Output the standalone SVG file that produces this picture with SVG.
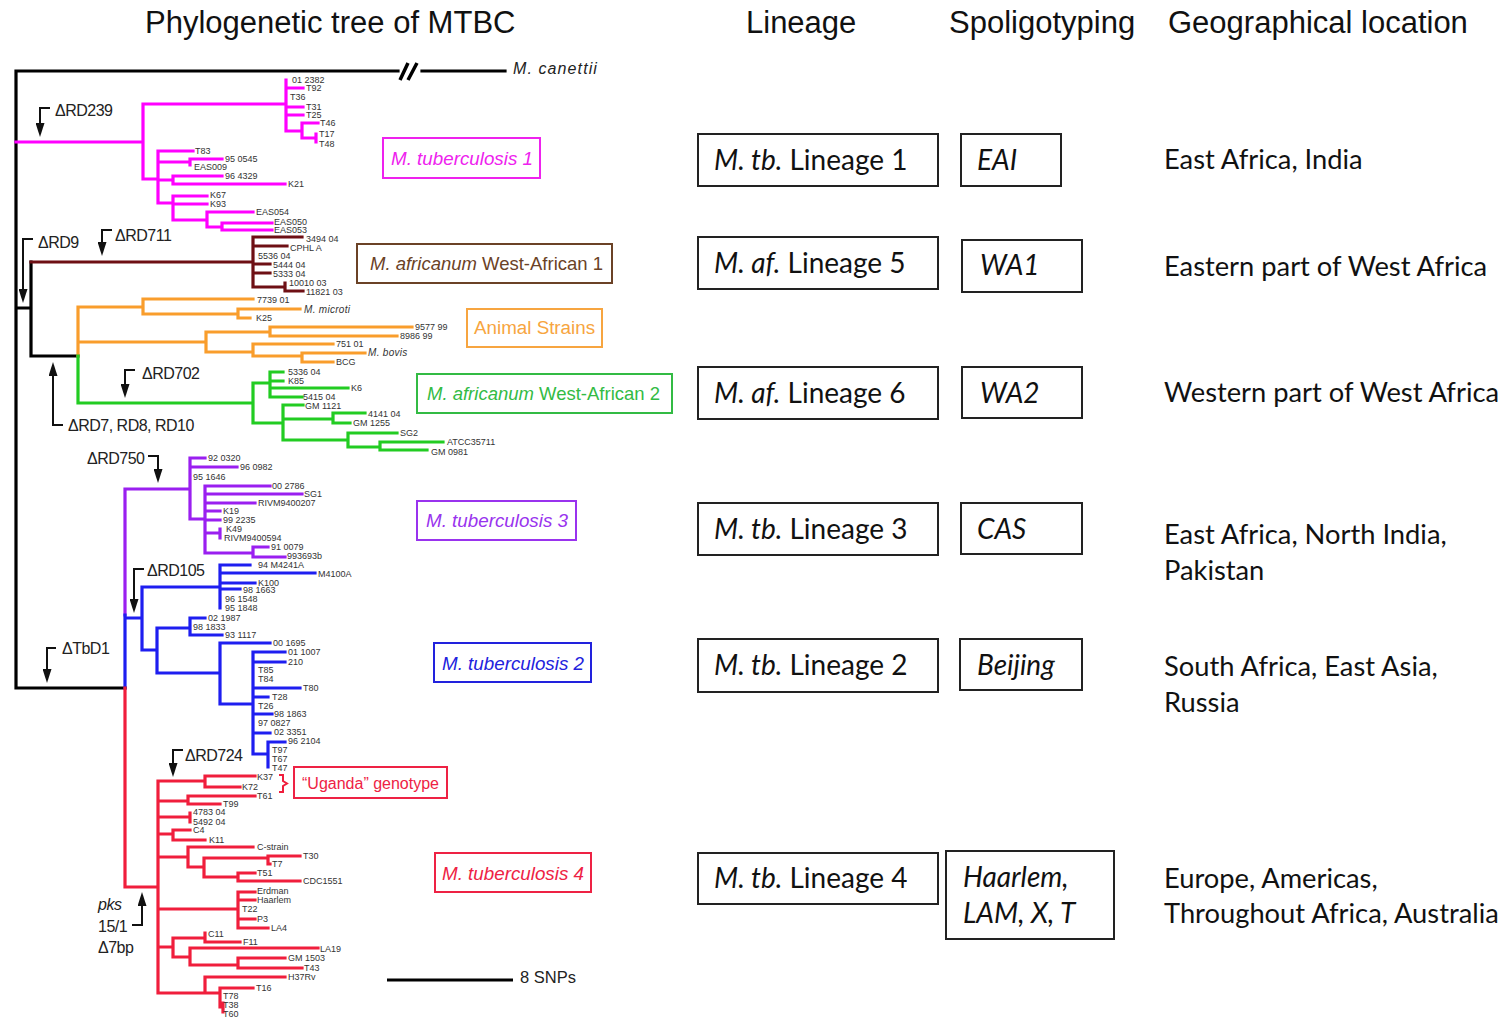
<svg xmlns="http://www.w3.org/2000/svg" width="1506" height="1019" viewBox="0 0 1506 1019">
<defs>
<style>
.hdr{font-family:"Liberation Sans",Arial,sans-serif;font-size:31px;fill:#111}
.br{fill:none;stroke-width:3.2;stroke-linecap:square;stroke-linejoin:miter}
.blk{stroke:#000}
.mag{stroke:#ff00ff}
.brn{stroke:#6e0f14}
.org{stroke:#f99d2c}
.grn{stroke:#22cc22}
.pur{stroke:#9a1ff0}
.blu{stroke:#1e1ef0}
.red{stroke:#f01e3c}
.tip{font-family:"Liberation Sans",Arial,sans-serif;font-size:9px;fill:#333}
.tipi{font-family:"Liberation Sans",Arial,sans-serif;font-size:10px;font-style:italic;fill:#333;letter-spacing:0.3px}
.evt{font-family:"Liberation Sans",Arial,sans-serif;font-size:16px;fill:#222;letter-spacing:-0.5px}
.arr{fill:none;stroke:#111;stroke-width:2;marker-end:url(#ah)}
.cbox{fill:#fff;stroke-width:2}
.clab{font-family:"Liberation Sans",Arial,sans-serif;font-size:18.8px}
.tbox{fill:#fff;stroke:#222;stroke-width:2}
.tt{font-family:Lato,"Open Sans",sans-serif;font-size:28px;fill:#111}
.geo{font-family:Lato,"Open Sans",sans-serif;font-size:27.3px;fill:#111}
</style>
<marker id="ah" viewBox="0 0 14 9" refX="2" refY="4.5" markerWidth="14" markerHeight="9" markerUnits="userSpaceOnUse" orient="auto">
<path d="M0,0 L14,4.5 L0,9 z" fill="#111"/>
</marker>
</defs>
<rect width="1506" height="1019" fill="#fff"/>

<!-- column headings -->
<g id="headings">
<text class="hdr" x="145" y="33">Phylogenetic tree of MTBC</text>
<text class="hdr" x="746" y="33">Lineage</text>
<text class="hdr" x="949" y="33">Spoligotyping</text>
<text class="hdr" x="1168" y="33">Geographical location</text>
</g>

<!-- tree branches -->
<g id="connectors">
<path class="br blk" d="M16,71 H398 M422,71 H505 M16,71 V688 H125 M16,308 H31 M31,262 V356 H78"/>
<path d="M400,80 L408,63 M408,80 L417,63" stroke="#000" stroke-width="3.5" fill="none"/>
<path class="br mag" d="M16,142 H143 M143,104 V179 M143,104 H286 M286,80 V131 M286,88 H303 M286,107 H303 M286,115 H303 M286,131 H302 M302,123 V138 M302,123 H318 M302,138 H316 M316,134 V142 M143,179 H158 M158,151 V203 M158,151 H193 M158,162 H190 M190,159 V165 M190,159 H222 M158,180 H173 M173,176 V184 M173,176 H222 M173,184 H285 M158,203 H173 M173,196 V220 M173,196 H207 M173,204 H207 M173,220 H207 M207,212 V227 M207,212 H253 M207,227 H222 M222,223 V230 M222,223 H272 M222,230 H272"/>
<path class="br brn" d="M31,262 H253 M253,237 V287 M253,237 H302 M253,246 H287 M253,264 H270 M253,273 H270 M253,287 H285 M285,283 V291 M285,291 H303"/>
<path class="br org" d="M78,307 V356 M78,307 H143 M143,299 V314 M143,299 H253 M143,314 H238 M238,309 V318 M238,309 H300 M238,318 H250 M78,342 H206 M206,332 V352 M206,332 H270 M270,327 V336 M270,327 H412 M270,336 H397 M206,352 H253 M253,344 V356 M253,344 H333 M253,356 H302 M302,353 V362 M302,353 H365 M302,362 H333"/>
<path class="br grn" d="M78,356 V403 H253 M253,383 V423 M253,383 H270 M270,372 V397 M270,372 H283 M270,381 H283 M270,388 H348 M270,397 H302 M253,423 H283 M283,405 V440 M283,405 H303 M283,419 H333 M333,413 V423 M333,413 H365 M333,423 H350 M283,440 H348 M348,433 V447 M348,433 H397 M348,447 H380 M380,442 V450 M380,442 H443 M380,450 H427"/>
<path class="br pur" d="M125,489 V615 M125,489 H190 M190,458 V519 M190,458 H205 M190,467 H237 M190,519 H205 M205,486 V553 M205,486 H270 M205,494 H302 M205,503 H255 M205,511 H220 M205,520 H220 M205,533 H220 M220,529 V538 M205,553 H253 M253,547 V557 M253,547 H268 M253,557 H285"/>
<path class="br blu" d="M125,615 V688 M125,618 H142 M142,587 V650 M142,587 H220 M220,565 V608 M220,565 H250 M220,573 H315 M220,583 H255 M220,589 H240 M142,650 H157 M157,628 V673 M157,628 H190 M190,618 V635 M190,618 H205 M190,635 H222 M157,673 H220 M220,643 V704 M220,643 H270 M220,704 H253 M253,652 V754 M253,652 H285 M253,662 H285 M253,688 H300 M253,697 H268 M253,714 H272 M253,733 H270 M253,754 H268 M268,742 V767 M268,742 H285"/>
<path class="br red" d="M125,688 V887 H158 M158,781 V993 M158,781 H205 M205,776 V787 M205,776 H255 M205,787 H240 M158,801 H188 M188,796 V804 M188,796 H255 M188,804 H220 M158,817 H190 M190,813 V822 M158,834 H173 M173,830 V840 M173,830 H190 M173,840 H205 M158,857 H188 M188,847 V867 M188,847 H253 M188,867 H204 M204,858 V877 M204,858 H268 M268,856 V864 M268,856 H300 M268,864 H270 M204,877 H238 M238,873 V881 M238,873 H255 M238,881 H300 M158,909 H238 M238,892 V928 M238,892 H255 M238,900 H255 M238,919 H255 M238,928 H268 M158,947 H173 M173,938 V957 M173,938 H205 M205,933 V942 M205,942 H240 M173,957 H190 M190,948 V965 M190,948 H318 M190,965 H238 M238,958 V968 M238,958 H285 M238,968 H302 M158,993 H205 M205,977 V993 M205,977 H285 M205,993 H220 M220,988 V1007 M220,988 H253 M220,1007 H223 M223,1003 V1012"/>
<!-- scale bar -->
<path d="M387,980 H513" stroke="#000" stroke-width="3.2"/>
<!-- Uganda bracket -->
<path d="M279,775 H283 V781 L287,783.5 L283,786 V792 H279" fill="none" stroke="#f01e3c" stroke-width="2"/>
</g>

<!-- deletion events -->
<g id="events">
<path class="arr" d="M50,108 H40 V125"/>
<text class="evt" x="55" y="116">ΔRD239</text>
<path class="arr" d="M33,239 H23 V291"/>
<text class="evt" x="38" y="248">ΔRD9</text>
<path class="arr" d="M112,230 H102 V244"/>
<text class="evt" x="115" y="241">ΔRD711</text>
<path class="arr" d="M135,370 H125 V386"/>
<text class="evt" x="142" y="379">ΔRD702</text>
<path class="arr" d="M63,425 H53 V374"/>
<text class="evt" x="68" y="431">ΔRD7, RD8, RD10</text>
<path class="arr" d="M148,456 H158 V471"/>
<text class="evt" x="87" y="464">ΔRD750</text>
<path class="arr" d="M144,569 H134 V601"/>
<text class="evt" x="147" y="576">ΔRD105</text>
<path class="arr" d="M56,648 H47 V671"/>
<text class="evt" x="62" y="654">ΔTbD1</text>
<path class="arr" d="M183,750 H173 V765"/>
<text class="evt" x="185" y="761">ΔRD724</text>
<path class="arr" d="M132,925 H142 V904"/>
<text class="evt" x="98" y="910" font-style="italic">pks</text>
<text class="evt" x="98" y="932">15/1</text>
<text class="evt" x="98" y="953">Δ7bp</text>
</g>

<g id="outgroup">
<text x="513" y="74" font-family="Liberation Sans, Arial, sans-serif" font-size="16" font-style="italic" letter-spacing="1.1" fill="#222">M. canettii</text>
</g>

<g id="tips-lineage1">
<text class="tip" x="292" y="83">01 2382</text>
<text class="tip" x="306" y="91">T92</text>
<text class="tip" x="290" y="100">T36</text>
<text class="tip" x="306" y="110">T31</text>
<text class="tip" x="306" y="118">T25</text>
<text class="tip" x="320" y="126">T46</text>
<text class="tip" x="319" y="137">T17</text>
<text class="tip" x="319" y="147">T48</text>
<text class="tip" x="195" y="154">T83</text>
<text class="tip" x="225" y="162">95 0545</text>
<text class="tip" x="194" y="170">EAS009</text>
<text class="tip" x="225" y="179">96 4329</text>
<text class="tip" x="288" y="187">K21</text>
<text class="tip" x="210" y="198">K67</text>
<text class="tip" x="210" y="207">K93</text>
<text class="tip" x="256" y="215">EAS054</text>
<text class="tip" x="274" y="225">EAS050</text>
<text class="tip" x="274" y="233">EAS053</text>
</g>

<g id="tips-lineage5">
<text class="tip" x="306" y="242">3494 04</text>
<text class="tip" x="290" y="251">CPHL A</text>
<text class="tip" x="258" y="259">5536 04</text>
<text class="tip" x="273" y="268">5444 04</text>
<text class="tip" x="273" y="277">5333 04</text>
<text class="tip" x="289" y="286">10010 03</text>
<text class="tip" x="306" y="295">11821 03</text>
</g>

<g id="tips-animal">
<text class="tip" x="257" y="303">7739 01</text>
<text class="tipi" x="304" y="313">M. microti</text>
<text class="tip" x="256" y="321">K25</text>
<text class="tip" x="415" y="330">9577 99</text>
<text class="tip" x="400" y="339">8986 99</text>
<text class="tip" x="336" y="347">751 01</text>
<text class="tipi" x="368" y="356">M. bovis</text>
<text class="tip" x="336" y="365">BCG</text>
</g>

<g id="tips-lineage6">
<text class="tip" x="288" y="375">5336 04</text>
<text class="tip" x="288" y="384">K85</text>
<text class="tip" x="351" y="391">K6</text>
<text class="tip" x="303" y="400">5415 04</text>
<text class="tip" x="305" y="409">GM 1121</text>
<text class="tip" x="368" y="417">4141 04</text>
<text class="tip" x="353" y="426">GM 1255</text>
<text class="tip" x="400" y="436">SG2</text>
<text class="tip" x="447" y="445">ATCC35711</text>
<text class="tip" x="431" y="455">GM 0981</text>
</g>

<g id="tips-lineage3">
<text class="tip" x="208" y="461">92 0320</text>
<text class="tip" x="240" y="470">96 0982</text>
<text class="tip" x="193" y="480">95 1646</text>
<text class="tip" x="272" y="489">00 2786</text>
<text class="tip" x="304" y="497">SG1</text>
<text class="tip" x="258" y="506">RIVM9400207</text>
<text class="tip" x="223" y="514">K19</text>
<text class="tip" x="223" y="523">99 2235</text>
<text class="tip" x="226" y="532">K49</text>
<text class="tip" x="224" y="541">RIVM9400594</text>
<text class="tip" x="271" y="550">91 0079</text>
<text class="tip" x="287" y="559">993693b</text>
</g>

<g id="tips-lineage2">
<text class="tip" x="258" y="568">94 M4241A</text>
<text class="tip" x="318" y="577">M4100A</text>
<text class="tip" x="258" y="586">K100</text>
<text class="tip" x="243" y="593">98 1663</text>
<text class="tip" x="225" y="602">96 1548</text>
<text class="tip" x="225" y="611">95 1848</text>
<text class="tip" x="208" y="621">02 1987</text>
<text class="tip" x="193" y="630">98 1833</text>
<text class="tip" x="225" y="638">93 1117</text>
<text class="tip" x="273" y="646">00 1695</text>
<text class="tip" x="288" y="655">01 1007</text>
<text class="tip" x="288" y="665">210</text>
<text class="tip" x="258" y="673">T85</text>
<text class="tip" x="258" y="682">T84</text>
<text class="tip" x="303" y="691">T80</text>
<text class="tip" x="272" y="700">T28</text>
<text class="tip" x="258" y="709">T26</text>
<text class="tip" x="274" y="717">98 1863</text>
<text class="tip" x="258" y="726">97 0827</text>
<text class="tip" x="274" y="735">02 3351</text>
<text class="tip" x="288" y="744">96 2104</text>
<text class="tip" x="272" y="753">T97</text>
<text class="tip" x="272" y="762">T67</text>
<text class="tip" x="272" y="771">T47</text>
</g>

<g id="tips-lineage4">
<text class="tip" x="257" y="780">K37</text>
<text class="tip" x="242" y="790">K72</text>
<text class="tip" x="257" y="799">T61</text>
<text class="tip" x="223" y="807">T99</text>
<text class="tip" x="193" y="815">4783 04</text>
<text class="tip" x="193" y="825">5492 04</text>
<text class="tip" x="193" y="833">C4</text>
<text class="tip" x="209" y="843">K11</text>
<text class="tip" x="257" y="850">C-strain</text>
<text class="tip" x="303" y="859">T30</text>
<text class="tip" x="272" y="867">T7</text>
<text class="tip" x="257" y="876">T51</text>
<text class="tip" x="303" y="884">CDC1551</text>
<text class="tip" x="257" y="894">Erdman</text>
<text class="tip" x="257" y="903">Haarlem</text>
<text class="tip" x="242" y="912">T22</text>
<text class="tip" x="257" y="922">P3</text>
<text class="tip" x="271" y="931">LA4</text>
<text class="tip" x="208" y="937">C11</text>
<text class="tip" x="243" y="945">F11</text>
<text class="tip" x="320" y="952">LA19</text>
<text class="tip" x="288" y="961">GM 1503</text>
<text class="tip" x="304" y="971">T43</text>
<text class="tip" x="288" y="980">H37Rv</text>
<text class="tip" x="256" y="991">T16</text>
<text class="tip" x="223" y="999">T78</text>
<text class="tip" x="223" y="1008">T38</text>
<text class="tip" x="223" y="1017">T60</text>
</g>

<g id="scale-label">
<text x="520" y="983" font-family="Liberation Sans, Arial, sans-serif" font-size="16.5" fill="#222">8 SNPs</text>
</g>

<!-- clade labels -->
<g id="label-mtb1">
<rect class="cbox" x="383" y="138" width="157" height="40" stroke="#ee22ee"/>
<text class="clab" x="391" y="165" fill="#ee22ee" font-style="italic">M. tuberculosis 1</text>
</g>
<g id="label-maf1">
<rect class="cbox" x="357" y="244" width="255" height="39" stroke="#6b4226"/>
<text class="clab" x="370" y="270" fill="#6b4226" style="font-size:18.5px"><tspan font-style="italic">M. africanum</tspan> West-African 1</text>
</g>
<g id="label-animal">
<rect class="cbox" x="467" y="309" width="135" height="38" stroke="#f7a540"/>
<text class="clab" x="474" y="334" fill="#f7a540">Animal Strains</text>
</g>
<g id="label-maf2">
<rect class="cbox" x="417" y="374" width="255" height="39" stroke="#33bb44"/>
<text class="clab" x="427" y="400" fill="#33bb44" style="font-size:18.5px"><tspan font-style="italic">M. africanum</tspan> West-African 2</text>
</g>
<g id="label-mtb3">
<rect class="cbox" x="417" y="501" width="159" height="39" stroke="#9933ee"/>
<text class="clab" x="426" y="527" fill="#9933ee" font-style="italic">M. tuberculosis 3</text>
</g>
<g id="label-mtb2">
<rect class="cbox" x="434" y="643" width="157" height="39" stroke="#2222dd"/>
<text class="clab" x="442" y="670" fill="#2222dd" font-style="italic">M. tuberculosis 2</text>
</g>
<g id="label-uganda">
<rect class="cbox" x="294" y="767" width="153" height="31" stroke="#ee2244"/>
<text x="302" y="789" font-family="Liberation Sans, Arial, sans-serif" font-size="16" fill="#ee2244">“Uganda” genotype</text>
</g>
<g id="label-mtb4">
<rect class="cbox" x="435" y="853" width="156" height="39" stroke="#ee2244"/>
<text class="clab" x="442" y="880" fill="#ee2244" font-style="italic">M. tuberculosis 4</text>
</g>

<!-- lineage table -->
<g id="row-l1">
<rect class="tbox" x="698" y="134" width="240" height="52"/>
<text class="tt" x="714" y="170"><tspan font-style="italic">M. tb.</tspan> Lineage 1</text>
<rect class="tbox" x="961" y="134" width="100" height="52"/>
<text class="tt" x="977" y="170" font-style="italic">EAI</text>
<text class="geo" x="1164" y="169">East Africa, India</text>
</g>
<g id="row-l5">
<rect class="tbox" x="698" y="237" width="240" height="52"/>
<text class="tt" x="714" y="273"><tspan font-style="italic">M. af.</tspan> Lineage 5</text>
<rect class="tbox" x="962" y="240" width="120" height="52"/>
<text class="tt" x="980" y="275" font-style="italic">WA1</text>
<text class="geo" x="1164" y="276">Eastern part of West Africa</text>
</g>
<g id="row-l6">
<rect class="tbox" x="698" y="367" width="240" height="52"/>
<text class="tt" x="714" y="403"><tspan font-style="italic">M. af.</tspan> Lineage 6</text>
<rect class="tbox" x="962" y="367" width="120" height="51"/>
<text class="tt" x="980" y="403" font-style="italic">WA2</text>
<text class="geo" x="1164" y="402">Western part of West Africa</text>
</g>
<g id="row-l3">
<rect class="tbox" x="698" y="503" width="240" height="52"/>
<text class="tt" x="714" y="539"><tspan font-style="italic">M. tb.</tspan> Lineage 3</text>
<rect class="tbox" x="961" y="503" width="121" height="51"/>
<text class="tt" x="977" y="539" font-style="italic">CAS</text>
<text class="geo" x="1164" y="544">East Africa, North India,</text>
<text class="geo" x="1164" y="580">Pakistan</text>
</g>
<g id="row-l2">
<rect class="tbox" x="698" y="639" width="240" height="53"/>
<text class="tt" x="714" y="675"><tspan font-style="italic">M. tb.</tspan> Lineage 2</text>
<rect class="tbox" x="960" y="639" width="122" height="51"/>
<text class="tt" x="977" y="675" font-style="italic">Beijing</text>
<text class="geo" x="1164" y="676">South Africa, East Asia,</text>
<text class="geo" x="1164" y="712">Russia</text>
</g>
<g id="row-l4">
<rect class="tbox" x="698" y="853" width="240" height="51"/>
<text class="tt" x="714" y="888"><tspan font-style="italic">M. tb.</tspan> Lineage 4</text>
<rect class="tbox" x="946" y="851" width="168" height="88"/>
<text class="tt" x="963" y="887" font-style="italic">Haarlem,</text>
<text class="tt" x="963" y="923" font-style="italic">LAM, X, T</text>
<text class="geo" x="1164" y="888">Europe, Americas,</text>
<text class="geo" x="1164" y="923">Throughout Africa, Australia</text>
</g>
</svg>
